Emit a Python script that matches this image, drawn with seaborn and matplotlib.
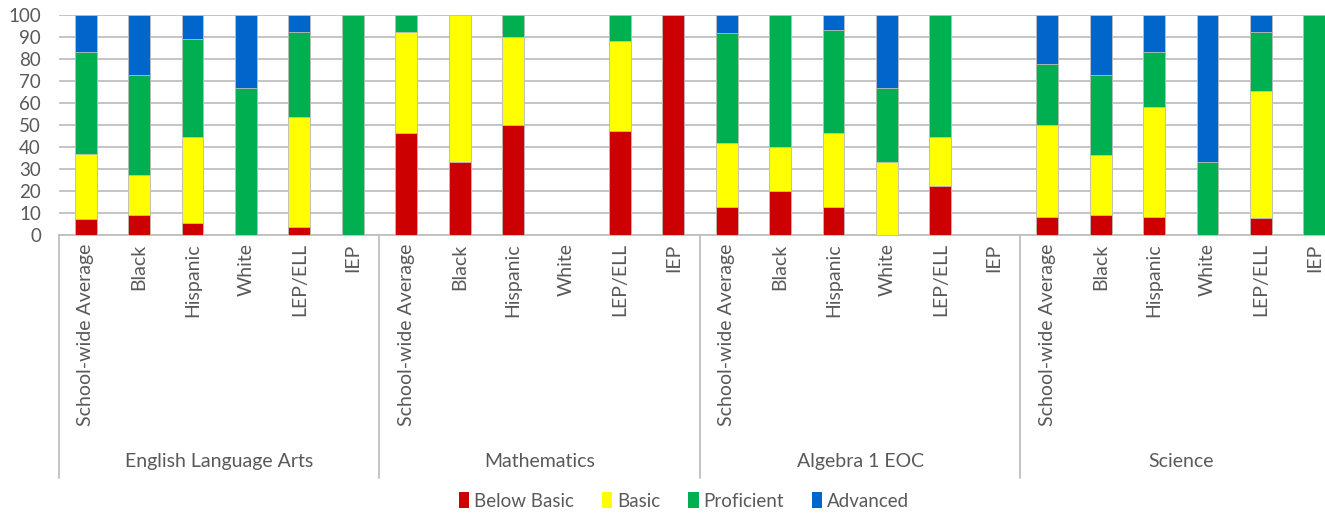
import numpy as np
import pandas as pd
import seaborn as sns
import matplotlib
matplotlib.use("Agg")
import matplotlib.pyplot as plt
from matplotlib.patches import Patch
from matplotlib.transforms import blended_transform_factory

# Subjects and student groups
subjects = ["English Language Arts", "Mathematics", "Algebra 1 EOC", "Science"]
groups = ["School-wide Average", "Black", "Hispanic", "White", "LEP/ELL", "IEP"]
levels = ["Below Basic", "Basic", "Proficient", "Advanced"]

# Percent of students at each performance level (per subject, per group)
below_basic = [7.4, 9.1, 5.6, 0, 3.8, 0,
               46.2, 33.3, 50.0, 0, 47.1, 100,
               12.5, 20.0, 12.9, 0, 22.2, 0,
               8.3, 9.1, 8.3, 0, 7.7, 0]
basic = [29.6, 18.2, 38.9, 0, 50.0, 0,
         46.1, 66.7, 40.0, 0, 41.2, 0,
         29.2, 20.0, 33.4, 33.3, 22.2, 0,
         41.7, 27.3, 50.0, 0, 57.7, 0]
proficient = [46.3, 45.4, 44.4, 66.7, 38.5, 100,
              7.7, 0, 10.0, 0, 11.7, 0,
              50.0, 60.0, 47.0, 33.4, 55.6, 0,
              27.8, 36.3, 25.0, 33.3, 26.9, 100]
advanced = [16.7, 27.3, 11.1, 33.3, 7.7, 0,
            0, 0, 0, 0, 0, 0,
            8.3, 0, 6.7, 33.3, 0, 0,
            22.2, 27.3, 16.7, 66.7, 7.7, 0]

colors = ["#CC0000", "#FFFF00", "#00B050", "#0066CC"]

slots = [f"{s}|{g}" for s in subjects for g in groups]
df = pd.DataFrame({
    "slot": slots,
    "Below Basic": below_basic,
    "Basic": basic,
    "Proficient": proficient,
    "Advanced": advanced,
})
# Cumulative heights for stacking (drawn tallest first)
cum = df[levels].cumsum(axis=1)
for lv in levels:
    df["cum_" + lv] = cum[lv]

sns.set_theme(style="white")
plt.rcParams["font.family"] = ["Lato", "DejaVu Sans"]
text_color = "#595959"
grid_color = "#BFBFBF"

W, H = 1325, 514
fig = plt.figure(figsize=(W / 100, H / 100), dpi=100)
left, right, top, bottom = 59, 1341, 15, 235
ax = fig.add_axes([left / W, 1 - bottom / H, (right - left) / W, (bottom - top) / H])

for lv, col in reversed(list(zip(levels, colors))):
    sns.barplot(data=df, x="slot", y="cum_" + lv, order=slots, color=col,
                width=0.41, saturation=1, edgecolor=grid_color, linewidth=0.6,
                ax=ax, zorder=3)

ax.set_ylim(0, 100)
ax.set_xlim(-0.5, len(slots) - 0.5)
ax.set_yticks(np.arange(0, 101, 10))
ax.yaxis.grid(True, color=grid_color, linewidth=1.3, zorder=0)
ax.set_axisbelow(True)
for s in ["left", "right", "top"]:
    ax.spines[s].set_visible(False)
ax.spines["bottom"].set_color(grid_color)
ax.spines["bottom"].set_linewidth(1.3)
ax.set_xlabel("")
ax.set_ylabel("")
ax.tick_params(axis="y", length=0, pad=13, labelsize=13.5, labelcolor=text_color)
ax.set_xticks(range(len(slots)))
ax.set_xticklabels([g for s in subjects for g in groups], rotation=90,
                   va="top", ha="center")
ax.tick_params(axis="x", length=0, pad=6, labelsize=14, labelcolor=text_color)

# Subject level of the category axis
tr = blended_transform_factory(ax.transData, ax.transAxes)
sep_bottom = -(478 - bottom) / (bottom - top)
for k in range(len(subjects) + 1):
    xk = k * len(groups) - 0.5
    ax.plot([xk, xk], [0, sep_bottom], color=grid_color, linewidth=1.3,
            transform=tr, clip_on=False)
for k, s in enumerate(subjects):
    xc = k * len(groups) + (len(groups) - 1) / 2
    ax.text(xc, -(462 - bottom) / (bottom - top), s, transform=tr,
            ha="center", va="center", fontsize=14, color=text_color)

handles = [Patch(facecolor=c, edgecolor="none", label=l) for c, l in zip(colors, levels)]
fig.legend(handles=handles, loc="center", bbox_to_anchor=(684 / W, 1 - 501 / H),
           ncol=4, frameon=False, fontsize=13.5, handlelength=0.55,
           handleheight=0.9, handletextpad=0.25, columnspacing=1.5,
           labelcolor=text_color)

fig.savefig("out.png", dpi=100)
